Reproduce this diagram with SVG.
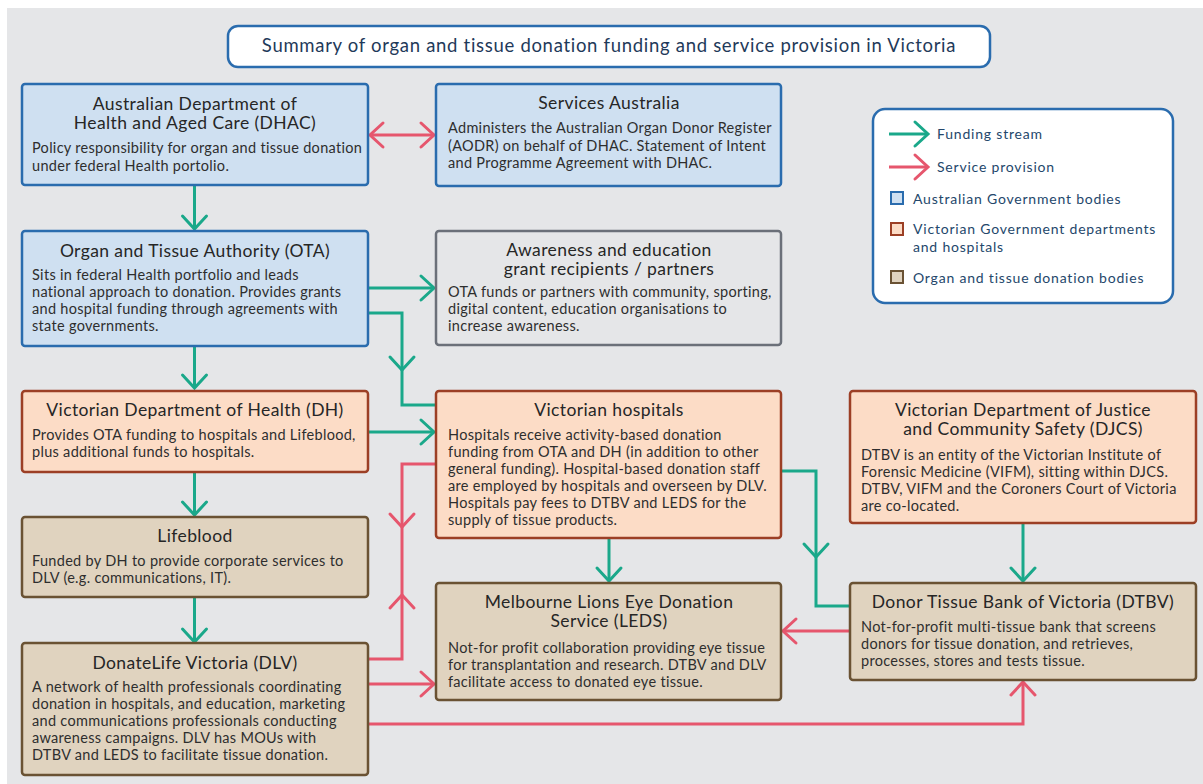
<svg xmlns="http://www.w3.org/2000/svg" xmlns:xlink="http://www.w3.org/1999/xlink" width="1203" height="784" viewBox="0 0 1203 784">
  <style>
    .bg { fill: #e5e6e8; }
    .box { stroke-width: 2.5; }
    .fed { fill: #cfe0f1; stroke: #2a6cae; }
    .vic { fill: #fcdcc6; stroke: #9c3f25; }
    .don { fill: #e0d3bf; stroke: #6a5233; }
    .aw  { fill: #e5e6e8; stroke: #6b7079; }
    .ttl { font-family: Lato, "Open Sans", sans-serif; font-size: 17.5px; letter-spacing: 0.4px; fill: #262626; text-anchor: middle; }
    .txt { font-family: Lato, "Open Sans", sans-serif; font-size: 14.5px; letter-spacing: 0.3px; fill: #2e2e2e; }
    .leg { font-family: Lato, "Open Sans", sans-serif; font-size: 14px; fill: #24476b; letter-spacing: 0.8px; }
    .head { font-family: Lato, "Open Sans", sans-serif; font-size: 18.5px; letter-spacing: 0.7px; fill: #1f3a5a; text-anchor: middle; }
    .fund { stroke: #1aa88a; }
    .serv { stroke: #e6566d; }
    .ln { fill: none; stroke-width: 3; stroke-linejoin: miter; }
  </style>
  <defs>
    <!-- open chevron pointing right, tip at the origin -->
    <path id="chev" d="M-13,-12 L0,0 L-13,12" fill="none" stroke-width="3" stroke-linecap="round" stroke-linejoin="miter"/>
  </defs>

  <rect class="bg" x="7" y="8" width="1196" height="776"/>

  <!-- heading -->
  <g id="heading">
    <rect x="228" y="26" width="762" height="41" rx="10" fill="#ffffff" stroke="#2a6cae" stroke-width="2.5"/>
    <text class="head" x="609" y="52">Summary of organ and tissue donation funding and service provision in Victoria</text>
  </g>

  <!-- connectors -->
  <g id="connectors">
    <!-- DHAC <-> Services Australia -->
    <path class="ln serv" d="M370,135 H434"/>
    <use href="#chev" class="serv" transform="translate(434,135)"/>
    <use href="#chev" class="serv" transform="translate(370,135) rotate(180)"/>
    <!-- DHAC -> OTA -->
    <path class="ln fund" d="M194.5,185 V229"/>
    <use href="#chev" class="fund" transform="translate(194.5,229) rotate(90)"/>
    <!-- OTA -> Awareness -->
    <path class="ln fund" d="M368,288 H434"/>
    <use href="#chev" class="fund" transform="translate(434,288)"/>
    <!-- OTA -> hospitals -->
    <path class="ln fund" d="M368,313 H402 V405 H436"/>
    <use href="#chev" class="fund" transform="translate(402,370) rotate(90)"/>
    <!-- OTA -> DH -->
    <path class="ln fund" d="M194.5,346 V388"/>
    <use href="#chev" class="fund" transform="translate(194.5,388) rotate(90)"/>
    <!-- DH -> hospitals -->
    <path class="ln fund" d="M368,432 H434"/>
    <use href="#chev" class="fund" transform="translate(434,432)"/>
    <!-- DH -> Lifeblood -->
    <path class="ln fund" d="M194.5,472 V515"/>
    <use href="#chev" class="fund" transform="translate(194.5,515) rotate(90)"/>
    <!-- hospitals <-> DLV -->
    <path class="ln serv" d="M436,464 H402 V659 H368"/>
    <use href="#chev" class="serv" transform="translate(402,527) rotate(90)"/>
    <use href="#chev" class="serv" transform="translate(402,595) rotate(-90)"/>
    <!-- Lifeblood -> DLV -->
    <path class="ln fund" d="M194.5,597 V642"/>
    <use href="#chev" class="fund" transform="translate(194.5,642) rotate(90)"/>
    <!-- DLV -> LEDS -->
    <path class="ln serv" d="M368,684 H434"/>
    <use href="#chev" class="serv" transform="translate(434,684)"/>
    <!-- DLV -> DTBV -->
    <path class="ln serv" d="M368,724 H1023 V682"/>
    <use href="#chev" class="serv" transform="translate(1023,682) rotate(-90)"/>
    <!-- DTBV -> LEDS -->
    <path class="ln serv" d="M850,631 H783"/>
    <use href="#chev" class="serv" transform="translate(783,631) rotate(180)"/>
    <!-- hospitals -> LEDS -->
    <path class="ln fund" d="M609,538 V581"/>
    <use href="#chev" class="fund" transform="translate(609,581) rotate(90)"/>
    <!-- hospitals -> DTBV -->
    <path class="ln fund" d="M781,471 H816 V606 H850"/>
    <use href="#chev" class="fund" transform="translate(816,557) rotate(90)"/>
    <!-- DJCS -> DTBV -->
    <path class="ln fund" d="M1023,523 V581"/>
    <use href="#chev" class="fund" transform="translate(1023,581) rotate(90)"/>
  </g>

  <g id="dhac">
    <rect class="box fed" x="22" y="84" width="346" height="101" rx="3"/>
    <text class="ttl" x="195" y="110">Australian Department of</text>
    <text class="ttl" x="195" y="129">Health and Aged Care (DHAC)</text>
    <text class="txt" x="32" y="153">Policy responsibility for organ and tissue donation</text>
    <text class="txt" x="32" y="171">under federal Health portolio.</text>
  </g>

  <g id="services-australia">
    <rect class="box fed" x="436" y="84" width="345" height="102" rx="3"/>
    <text class="ttl" x="609" y="109">Services Australia</text>
    <text class="txt" x="448" y="133">Administers the Australian Organ Donor Register</text>
    <text class="txt" x="448" y="151">(AODR) on behalf of DHAC. Statement of Intent</text>
    <text class="txt" x="448" y="168">and Programme Agreement with DHAC.</text>
  </g>

  <g id="ota">
    <rect class="box fed" x="22" y="231" width="346" height="115" rx="3"/>
    <text class="ttl" x="195" y="257">Organ and Tissue Authority (OTA)</text>
    <text class="txt" x="32" y="280">Sits in federal Health portfolio and leads</text>
    <text class="txt" x="32" y="297">national approach to donation. Provides grants</text>
    <text class="txt" x="32" y="314">and hospital funding through agreements with</text>
    <text class="txt" x="32" y="331">state governments.</text>
  </g>

  <g id="awareness">
    <rect class="box aw" x="436" y="231" width="345" height="114" rx="3"/>
    <text class="ttl" x="609" y="256">Awareness and education</text>
    <text class="ttl" x="609" y="275">grant recipients / partners</text>
    <text class="txt" x="448" y="297">OTA funds or partners with community, sporting,</text>
    <text class="txt" x="448" y="314">digital content, education organisations to</text>
    <text class="txt" x="448" y="331">increase awareness.</text>
  </g>

  <g id="legend">
    <rect x="873" y="109" width="300" height="194" rx="12" fill="#ffffff" stroke="#2a6cae" stroke-width="2.5"/>
    <path class="ln fund" d="M889,134 H927"/>
    <use href="#chev" class="fund" transform="translate(928,134)"/>
    <text class="leg" x="937" y="139">Funding stream</text>
    <path class="ln serv" d="M889,167 H927"/>
    <use href="#chev" class="serv" transform="translate(928,167)"/>
    <text class="leg" x="937" y="172">Service provision</text>
    <rect class="fed" x="891" y="192" width="12" height="12" stroke-width="2"/>
    <text class="leg" x="913" y="204">Australian Government bodies</text>
    <rect class="vic" x="891" y="223" width="12" height="12" stroke-width="2"/>
    <text class="leg" x="913" y="234">Victorian Government departments</text>
    <text class="leg" x="913" y="252">and hospitals</text>
    <rect class="don" x="891" y="271" width="12" height="12" stroke-width="2"/>
    <text class="leg" x="913" y="283">Organ and tissue donation bodies</text>
  </g>

  <g id="dh">
    <rect class="box vic" x="22" y="391" width="346" height="81" rx="3"/>
    <text class="ttl" x="195" y="416">Victorian Department of Health (DH)</text>
    <text class="txt" x="32" y="440">Provides OTA funding to hospitals and Lifeblood,</text>
    <text class="txt" x="32" y="457">plus additional funds to hospitals.</text>
  </g>

  <g id="hospitals">
    <rect class="box vic" x="436" y="391" width="345" height="147" rx="3"/>
    <text class="ttl" x="609" y="416">Victorian hospitals</text>
    <text class="txt" x="448" y="440">Hospitals receive activity-based donation</text>
    <text class="txt" x="448" y="457">funding from OTA and DH (in addition to other</text>
    <text class="txt" x="448" y="474">general funding). Hospital-based donation staff</text>
    <text class="txt" x="448" y="491">are employed by hospitals and overseen by DLV.</text>
    <text class="txt" x="448" y="508">Hospitals pay fees to DTBV and LEDS for the</text>
    <text class="txt" x="448" y="525">supply of tissue products.</text>
  </g>

  <g id="djcs">
    <rect class="box vic" x="850" y="391" width="346" height="132" rx="3"/>
    <text class="ttl" x="1023" y="416">Victorian Department of Justice</text>
    <text class="ttl" x="1023" y="435">and Community Safety (DJCS)</text>
    <text class="txt" x="861" y="460">DTBV is an entity of the Victorian Institute of</text>
    <text class="txt" x="861" y="477">Forensic Medicine (VIFM), sitting within DJCS.</text>
    <text class="txt" x="861" y="494">DTBV, VIFM and the Coroners Court of Victoria</text>
    <text class="txt" x="861" y="511">are co-located.</text>
  </g>

  <g id="lifeblood">
    <rect class="box don" x="22" y="517" width="346" height="80" rx="3"/>
    <text class="ttl" x="195" y="542">Lifeblood</text>
    <text class="txt" x="32" y="566">Funded by DH to provide corporate services to</text>
    <text class="txt" x="32" y="583">DLV (e.g. communications, IT).</text>
  </g>

  <g id="dlv">
    <rect class="box don" x="22" y="643" width="346" height="132" rx="3"/>
    <text class="ttl" x="195" y="669">DonateLife Victoria (DLV)</text>
    <text class="txt" x="32" y="692">A network of health professionals coordinating</text>
    <text class="txt" x="32" y="709">donation in hospitals, and education, marketing</text>
    <text class="txt" x="32" y="726">and communications professionals conducting</text>
    <text class="txt" x="32" y="743">awareness campaigns. DLV has MOUs with</text>
    <text class="txt" x="32" y="760">DTBV and LEDS to facilitate tissue donation.</text>
  </g>

  <g id="leds">
    <rect class="box don" x="436" y="583" width="345" height="117" rx="3"/>
    <text class="ttl" x="609" y="608">Melbourne Lions Eye Donation</text>
    <text class="ttl" x="609" y="627">Service (LEDS)</text>
    <text class="txt" x="448" y="653">Not-for profit collaboration providing eye tissue</text>
    <text class="txt" x="448" y="670">for transplantation and research. DTBV and DLV</text>
    <text class="txt" x="448" y="687">facilitate access to donated eye tissue.</text>
  </g>

  <g id="dtbv">
    <rect class="box don" x="850" y="583" width="346" height="97" rx="3"/>
    <text class="ttl" x="1023" y="608">Donor Tissue Bank of Victoria (DTBV)</text>
    <text class="txt" x="861" y="632">Not-for-profit multi-tissue bank that screens</text>
    <text class="txt" x="861" y="649">donors for tissue donation, and retrieves,</text>
    <text class="txt" x="861" y="666">processes, stores and tests tissue.</text>
  </g>
</svg>
